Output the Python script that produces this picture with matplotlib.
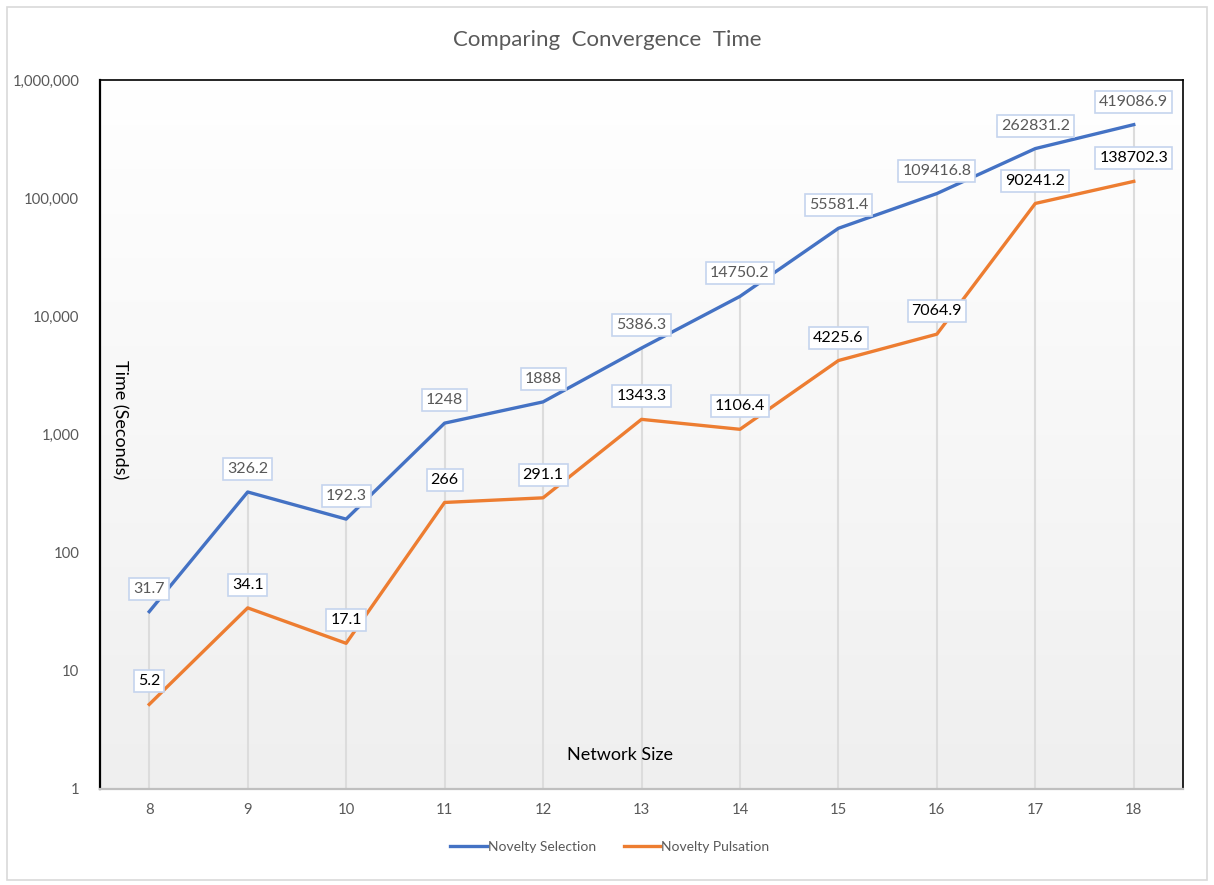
import matplotlib
matplotlib.use("Agg")
import matplotlib.pyplot as plt
import numpy as np
from matplotlib.patches import Rectangle
from matplotlib.ticker import FixedLocator, FuncFormatter
from matplotlib.colors import LinearSegmentedColormap

plt.rcParams['font.family'] = ['Lato', 'DejaVu Sans']

network_size = [8, 9, 10, 11, 12, 13, 14, 15, 16, 17, 18]
novelty_selection = [31.7, 326.2, 192.3, 1248, 1888, 5386.3, 14750.2, 55581.4, 109416.8, 262831.2, 419086.9]
novelty_pulsation = [5.2, 34.1, 17.1, 266, 291.1, 1343.3, 1106.4, 4225.6, 7064.9, 90241.2, 138702.3]
sel_labels = ["31.7", "326.2", "192.3", "1248", "1888", "5386.3", "14750.2", "55581.4", "109416.8", "262831.2", "419086.9"]
pul_labels = ["5.2", "34.1", "17.1", "266", "291.1", "1343.3", "1106.4", "4225.6", "7064.9", "90241.2", "138702.3"]
y_ticks = [1, 10, 100, 1000, 10000, 100000, 1000000]

W, H = 1214, 885
fig = plt.figure(figsize=(W / 100, H / 100), dpi=100)
fig.patch.set_facecolor('white')
fig.patches.append(Rectangle((7 / W, 5 / H), 1200 / W, 873 / H, transform=fig.transFigure,
                             fill=False, edgecolor='#d9d9d9', linewidth=1.2))

ax = fig.add_axes([100 / W, 1 - 789 / H, 1083 / W, 709 / H])
ax.set_yscale('log')
ax.set_ylim(1, 1e6)
ax.set_xlim(7.5, 18.5)

# gradient background
grad = np.linspace(0, 1, 256).reshape(-1, 1)
cmap = LinearSegmentedColormap.from_list('bg', ['#efefef', '#ffffff'])
ax.imshow(grad, extent=[0, 1, 0, 1], transform=ax.transAxes, cmap=cmap,
          aspect='auto', origin='lower', zorder=0)
ax.set_facecolor('white')

# drop lines
tops = [max(a, b) for a, b in zip(novelty_selection, novelty_pulsation)]
ax.vlines(network_size, 1, tops, colors='#dcdcdc', linewidth=1.5, zorder=1)

ax.plot(network_size, novelty_selection, color='#4472C4', linewidth=2.4, label='Novelty Selection', zorder=3)
ax.plot(network_size, novelty_pulsation, color='#ED7D31', linewidth=2.4, label='Novelty Pulsation', zorder=3)

box = dict(boxstyle='square,pad=0.25', facecolor='white', edgecolor='#c5d4ee', linewidth=1.2)
for x, y, t in zip(network_size, novelty_selection, sel_labels):
    ax.annotate(t, (x, y), xytext=(0, 16.5), textcoords='offset points', ha='center', va='center',
                fontsize=11.5, color='#595959', bbox=box, zorder=5)
for x, y, t in zip(network_size, novelty_pulsation, pul_labels):
    ax.annotate(t, (x, y), xytext=(0, 16.5), textcoords='offset points', ha='center', va='center',
                fontsize=11.5, color='black', bbox=box, zorder=5)

ax.yaxis.set_major_locator(FixedLocator(y_ticks))
ax.yaxis.set_minor_locator(FixedLocator([]))
ax.yaxis.set_major_formatter(FuncFormatter(lambda v, p: f"{int(round(v)):,}"))
ax.set_xticks(network_size)
ax.set_xticklabels([str(n) for n in network_size])
ax.tick_params(axis='both', length=0, labelsize=10.7, labelcolor='#595959')
ax.tick_params(axis='y', pad=15)
ax.tick_params(axis='x', pad=10)

for s in ['left', 'top', 'right']:
    ax.spines[s].set_color('black')
    ax.spines[s].set_linewidth(1.2)
ax.spines['left'].set_linewidth(1.6)
ax.spines['bottom'].set_color('#bfbfbf')
ax.spines['bottom'].set_linewidth(1.6)

fig.text(607 / W, 1 - 40 / H, 'Comparing  Convergence  Time', ha='center', va='center',
         fontsize=16, color='#595959')
fig.text(120 / W, 1 - 420 / H, 'Time (Seconds)', rotation=270, ha='center', va='center',
         fontsize=13, color='black')
fig.text(620 / W, 1 - 755 / H, 'Network Size', ha='center', va='center', fontsize=13, color='black')

fig.legend(loc='center', bbox_to_anchor=(610 / W, 1 - 847 / H), ncol=2, frameon=False,
           fontsize=10, labelcolor='#595959', handlelength=2.6, handletextpad=0.1, columnspacing=2.0)

fig.savefig('out.png', dpi=100)
